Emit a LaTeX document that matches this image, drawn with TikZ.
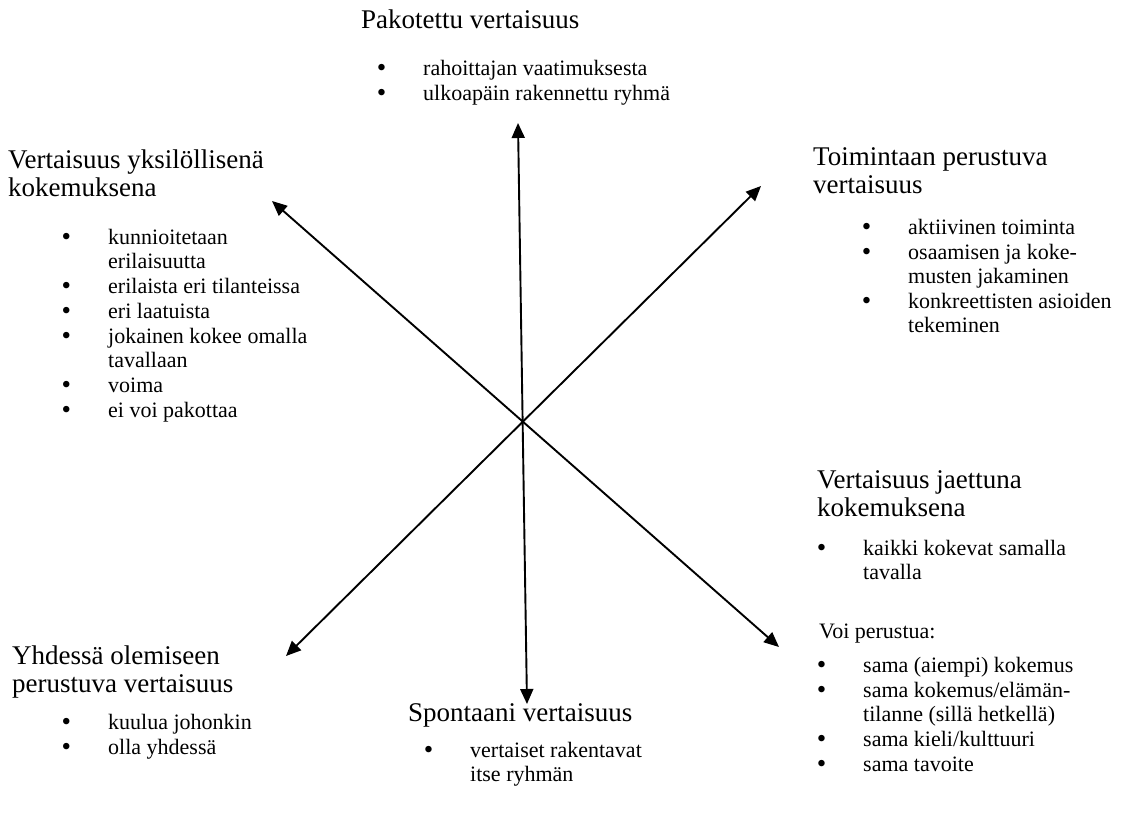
\documentclass[tikz,border=0pt]{standalone}
\usepackage{fontspec}
\setmainfont{Liberation Serif}
\usetikzlibrary{arrows.meta}
% bullet item: a large dot hangs to the left of the text start
\newcommand{\bitem}[1]{\llap{{\fontsize{27}{24}\selectfont\raisebox{-1.2pt}{\textbullet}}\hspace{37pt}}#1}
\tikzset{
  head/.style={font=\fontsize{27}{28.5}\selectfont, anchor=north west, inner sep=0pt, align=left},
  blist/.style={font=\fontsize{22}{24}\selectfont, anchor=north west, inner sep=0pt, align=left},
  arr/.style={line width=1.9pt, {Triangle[length=15pt,width=13pt]}-{Triangle[length=15pt,width=13pt]}}
}
% first-line struts: baseline sits 20pt / 16pt below the node top
\newcommand{\hs}{\rule{0pt}{20pt}}
\newcommand{\bs}{\rule{0pt}{16pt}}
\begin{document}
\begin{tikzpicture}[x=1pt,y=-1pt]
\useasboundingbox[fill=white] (0,0) rectangle (1134,814);

% end points of the three double arrows
\coordinate (n)  at (518,123);
\coordinate (s)  at (527,704);
\coordinate (nw) at (272,201);
\coordinate (se) at (779,647);
\coordinate (ne) at (761,186);
\coordinate (sw) at (286,656);
\draw[arr] (n) -- (s);
\draw[arr] (nw) -- (se);
\draw[arr] (ne) -- (sw);

% top
\node[head] (t1) at (361,8) {\hs Pakotettu vertaisuus};
\node[blist] (t2) at (423,59) {\bs\bitem{rahoittajan vaatimuksesta}\\[1pt]
  \bitem{ulkoapäin rakennettu ryhmä}};

% upper left
\node[head] (l1) at (8,148) {\hs Vertaisuus yksilöllisenä\\kokemuksena};
\node[blist] (l2) at (108,228) {\bs\bitem{kunnioitetaan}\\ erilaisuutta\\[1pt]
  \bitem{erilaista eri tilanteissa}\\[1pt]
  \bitem{eri laatuista}\\[1pt]
  \bitem{jokainen kokee omalla}\\ tavallaan\\[1pt]
  \bitem{voima}\\[1pt]
  \bitem{ei voi pakottaa}};

% upper right
\node[head] (r1) at (813,145) {\hs Toimintaan perustuva\\vertaisuus};
\node[blist] (r2) at (908,218) {\bs\bitem{aktiivinen toiminta}\\[1pt]
  \bitem{osaamisen ja koke-}\\ musten jakaminen\\[1pt]
  \bitem{konkreettisten asioiden}\\ tekeminen};

% lower right
\node[head] (q1) at (817,468) {\hs Vertaisuus jaettuna\\kokemuksena};
\node[blist] (q2) at (863,539) {\bs\bitem{kaikki kokevat samalla}\\ tavalla};
\node[blist] (q3) at (819,622) {\bs Voi perustua:};
\node[blist] (q4) at (863,656) {\bs\bitem{sama (aiempi) kokemus}\\[1pt]
  \bitem{sama kokemus/elämän-}\\ tilanne (sillä hetkellä)\\[1pt]
  \bitem{sama kieli/kulttuuri}\\[1pt]
  \bitem{sama tavoite}};

% lower left
\node[head] (p1) at (12,644) {\hs Yhdessä olemiseen\\perustuva vertaisuus};
\node[blist] (p2) at (108,713) {\bs\bitem{kuulua johonkin}\\[1pt]
  \bitem{olla yhdessä}};

% bottom
\node[head] (b1) at (408,701) {\hs Spontaani vertaisuus};
\node[blist] (b2) at (470,741) {\bs\bitem{vertaiset rakentavat}\\ itse ryhmän};
\end{tikzpicture}
\end{document}
